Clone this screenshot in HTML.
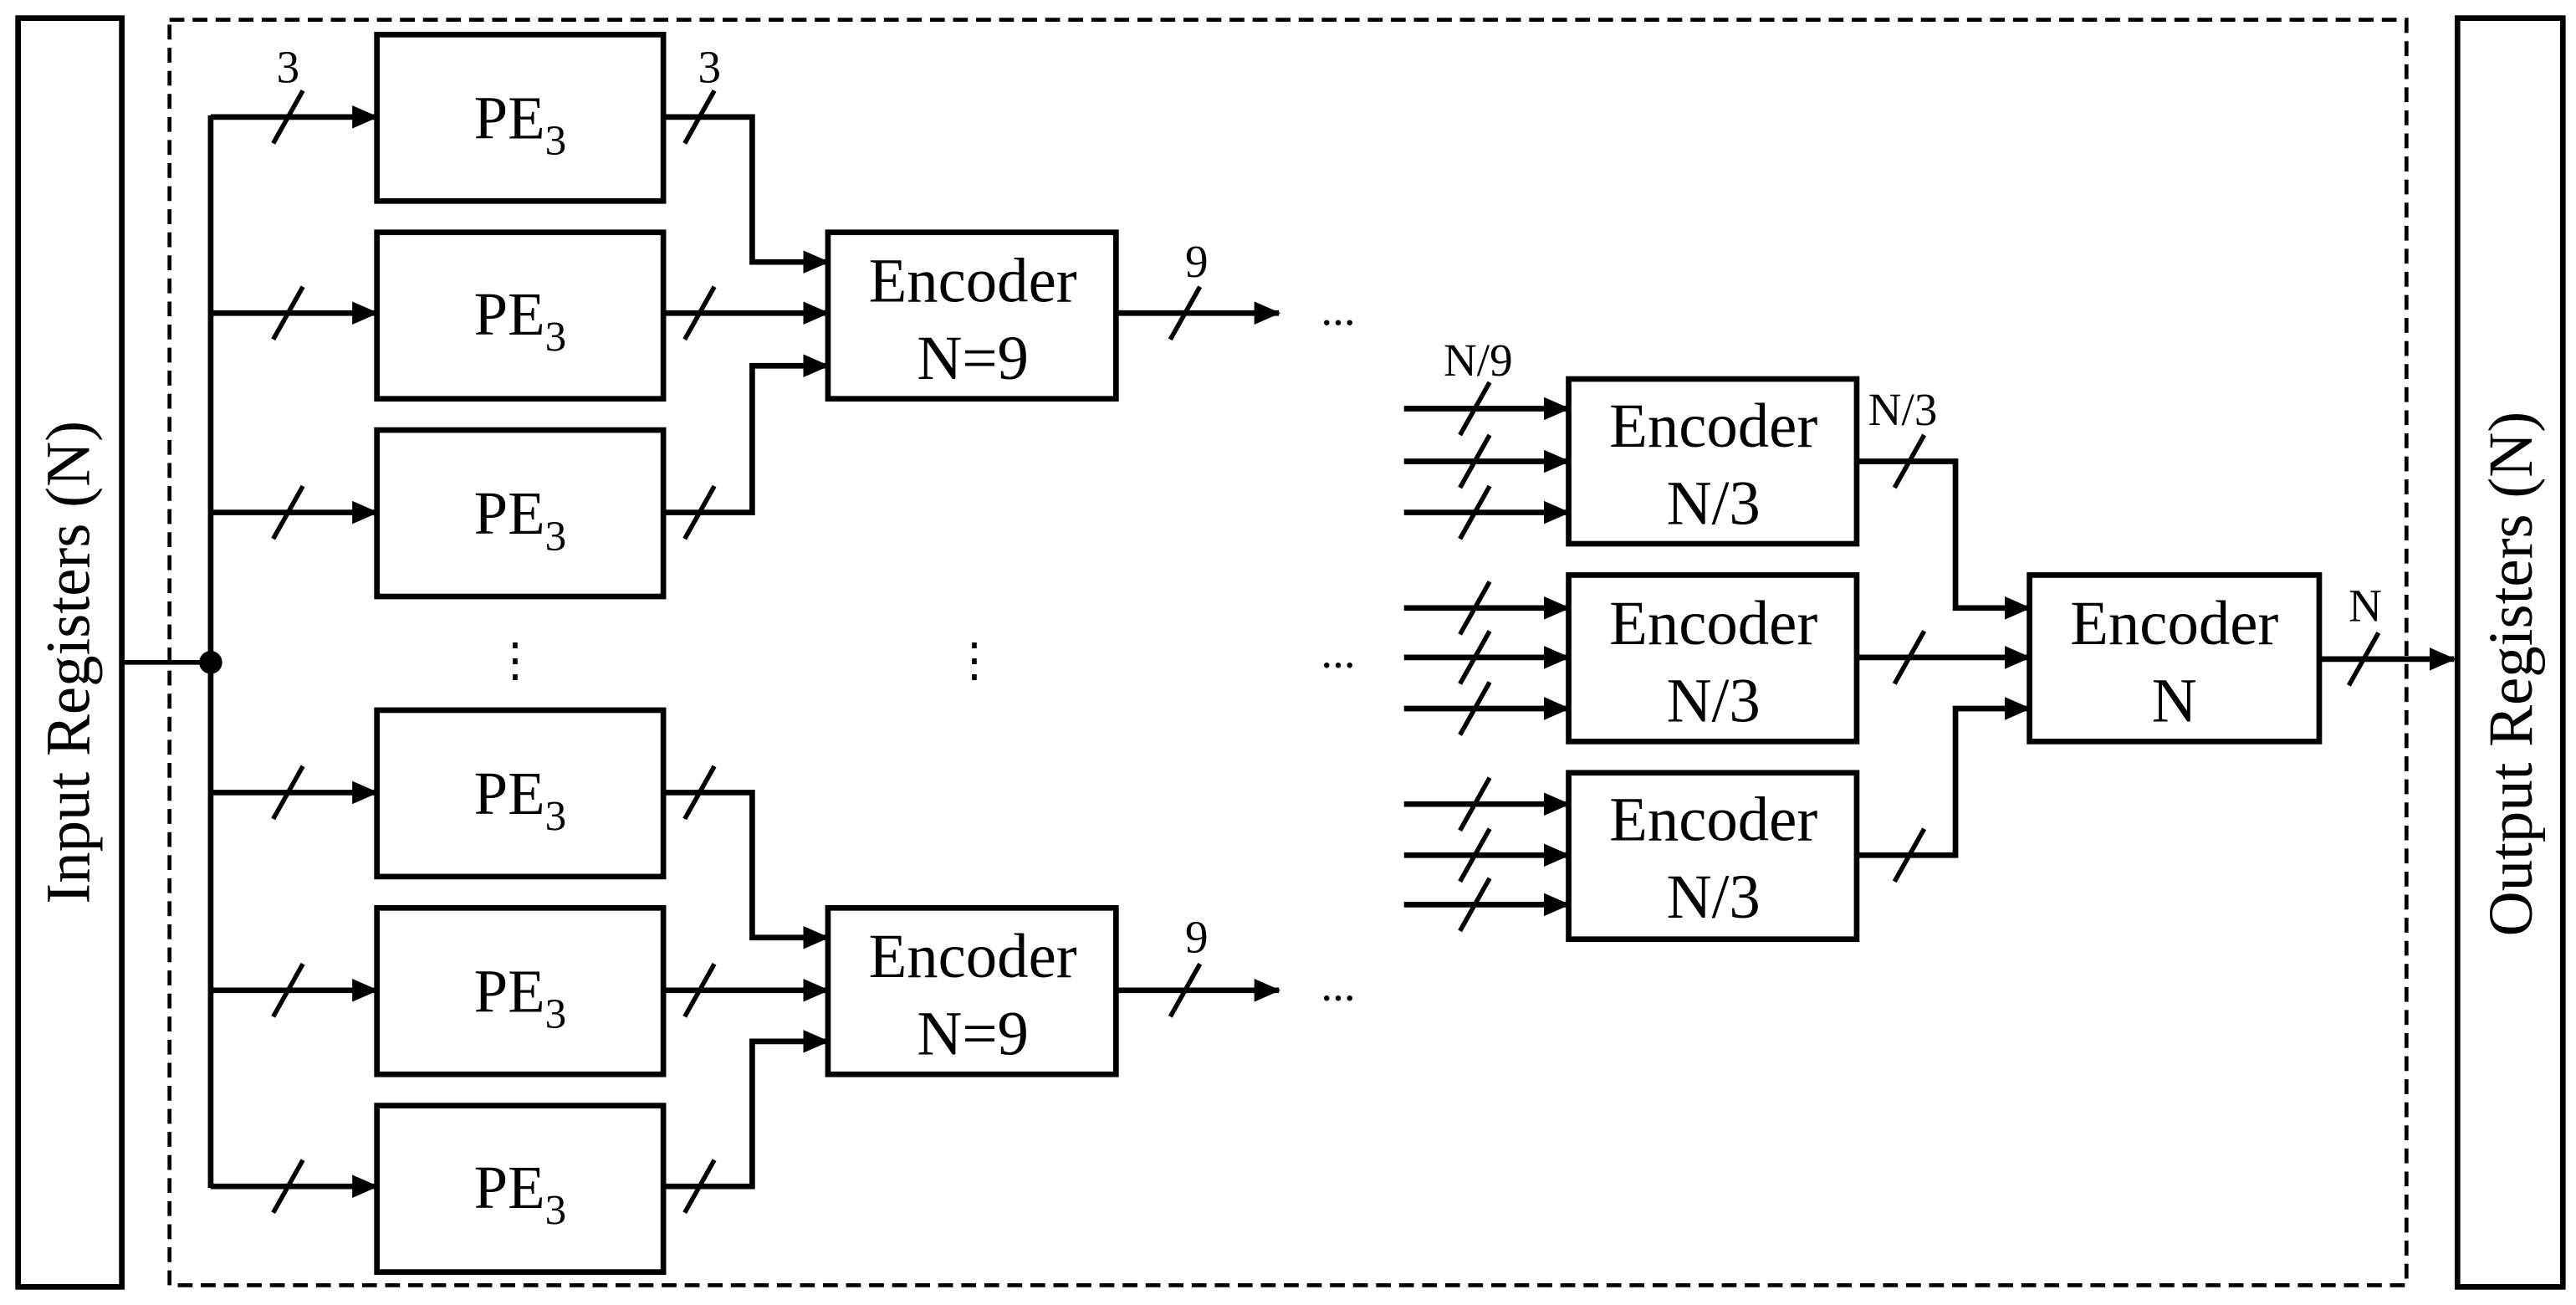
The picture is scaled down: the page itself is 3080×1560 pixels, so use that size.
<!DOCTYPE html>
<html><head><meta charset="utf-8"><style>
html,body{margin:0;padding:0;background:#fff;}
svg{display:block;}
text{font-family:"Liberation Serif",serif;fill:#000;}
</style></head><body>
<svg width="3080" height="1560" viewBox="0 0 1565 792" preserveAspectRatio="none" xmlns="http://www.w3.org/2000/svg">
<defs>
<marker id="a" viewBox="0 0 16 14" refX="15" refY="7" markerWidth="16" markerHeight="14" markerUnits="userSpaceOnUse" orient="auto"><path d="M0,0 L16,7 L0,14 z" fill="#000"/></marker>
</defs>
<g fill="none" stroke="#000" stroke-width="3.4">
<rect x="11" y="11" width="63" height="770"/>
<rect x="1493" y="11" width="64" height="770"/>
<rect x="103" y="12" width="1359" height="768" stroke-width="2.4" stroke-dasharray="9,5"/>
<line x1="74" y1="402" x2="128" y2="402" stroke-width="2.8"/>
<line x1="128" y1="70" x2="128" y2="721"/>
<rect x="229" y="21" width="174" height="101"/>
<rect x="229" y="141" width="174" height="101"/>
<rect x="229" y="261" width="174" height="101"/>
<rect x="229" y="431" width="174" height="101"/>
<rect x="229" y="551" width="174" height="101"/>
<rect x="229" y="671" width="174" height="101"/>
<rect x="503" y="141" width="175" height="101"/>
<rect x="503" y="551" width="175" height="101"/>
<rect x="953" y="230" width="175" height="100"/>
<rect x="953" y="349" width="175" height="101"/>
<rect x="953" y="469" width="175" height="101"/>
<rect x="1233" y="349" width="176" height="101"/>
</g>
<circle cx="128" cy="402" r="7" fill="#000"/>
<g fill="none" stroke="#000" stroke-width="3.4" marker-end="url(#a)">
<polyline points="128,71 229,71"/>
<polyline points="128,190 229,190"/>
<polyline points="128,311 229,311"/>
<polyline points="128,481 229,481"/>
<polyline points="128,601 229,601"/>
<polyline points="128,720 229,720"/>
<polyline points="403,71 457,71 457,159 503,159"/>
<polyline points="403,190 503,190"/>
<polyline points="403,311 457,311 457,222 503,222"/>
<polyline points="403,481 457,481 457,569 503,569"/>
<polyline points="403,601 503,601"/>
<polyline points="403,720 457,720 457,632 503,632"/>
<polyline points="678,190 777,190"/>
<polyline points="678,601 777,601"/>
<polyline points="853,248 953,248"/>
<polyline points="853,280 953,280"/>
<polyline points="853,311 953,311"/>
<polyline points="853,369 953,369"/>
<polyline points="853,399 953,399"/>
<polyline points="853,430 953,430"/>
<polyline points="853,488 953,488"/>
<polyline points="853,519 953,519"/>
<polyline points="853,549 953,549"/>
<polyline points="1128,280 1188,280 1188,369 1233,369"/>
<polyline points="1128,399 1233,399"/>
<polyline points="1128,519 1188,519 1188,430 1233,430"/>
<polyline points="1409,400 1491,400"/>
</g>
<g stroke="#000" stroke-width="2.8">
<line x1="166" y1="87" x2="184" y2="55"/>
<line x1="166" y1="206" x2="184" y2="174"/>
<line x1="166" y1="327" x2="184" y2="295"/>
<line x1="166" y1="497" x2="184" y2="465"/>
<line x1="166" y1="617" x2="184" y2="585"/>
<line x1="166" y1="736" x2="184" y2="704"/>
<line x1="416" y1="87" x2="434" y2="55"/>
<line x1="416" y1="206" x2="434" y2="174"/>
<line x1="416" y1="327" x2="434" y2="295"/>
<line x1="416" y1="497" x2="434" y2="465"/>
<line x1="416" y1="617" x2="434" y2="585"/>
<line x1="416" y1="736" x2="434" y2="704"/>
<line x1="711" y1="206" x2="729" y2="174"/>
<line x1="711" y1="617" x2="729" y2="585"/>
<line x1="887" y1="264" x2="905" y2="232"/>
<line x1="887" y1="296" x2="905" y2="264"/>
<line x1="887" y1="327" x2="905" y2="295"/>
<line x1="887" y1="385" x2="905" y2="353"/>
<line x1="887" y1="415" x2="905" y2="383"/>
<line x1="887" y1="446" x2="905" y2="414"/>
<line x1="887" y1="504" x2="905" y2="472"/>
<line x1="887" y1="535" x2="905" y2="503"/>
<line x1="887" y1="565" x2="905" y2="533"/>
<line x1="1151" y1="296" x2="1169" y2="264"/>
<line x1="1151" y1="415" x2="1169" y2="383"/>
<line x1="1151" y1="535" x2="1169" y2="503"/>
<line x1="1427" y1="416" x2="1445" y2="384"/>
</g>
<g font-size="37" text-anchor="middle">
<text x="316" y="84">PE<tspan font-size="26" dy="10">3</tspan></text>
<text x="316" y="203">PE<tspan font-size="26" dy="10">3</tspan></text>
<text x="316" y="324">PE<tspan font-size="26" dy="10">3</tspan></text>
<text x="316" y="494">PE<tspan font-size="26" dy="10">3</tspan></text>
<text x="316" y="614">PE<tspan font-size="26" dy="10">3</tspan></text>
<text x="316" y="733">PE<tspan font-size="26" dy="10">3</tspan></text>
</g>
<g font-size="38" text-anchor="middle">
<text x="591" y="183">Encoder</text><text x="591" y="230">N=9</text>
<text x="591" y="593">Encoder</text><text x="591" y="640">N=9</text>
<text x="1041" y="271">Encoder</text><text x="1041" y="318">N/3</text>
<text x="1041" y="391">Encoder</text><text x="1041" y="438">N/3</text>
<text x="1041" y="510">Encoder</text><text x="1041" y="557">N/3</text>
<text x="1321" y="391">Encoder</text><text x="1321" y="438">N</text>
<text transform="translate(54,402) rotate(-90)">Input Registers (N)</text>
<text transform="translate(1538,409) rotate(-90)">Output Registers (N)</text>
</g>
<g font-size="28" text-anchor="middle">
<text x="175" y="50">3</text>
<text x="431" y="50">3</text>
<text x="727" y="168">9</text>
<text x="727" y="578">9</text>
<text x="898" y="228">N/9</text>
<text x="1156" y="258">N/3</text>
<text x="1437" y="377">N</text>
</g>
<g font-size="28" text-anchor="middle">
<text x="813" y="197">...</text>
<text x="813" y="607">...</text>
<text x="813" y="405">...</text>
<text x="313" y="410">⋮</text>
<text x="592" y="410">⋮</text>
</g>
</svg>
</body></html>
